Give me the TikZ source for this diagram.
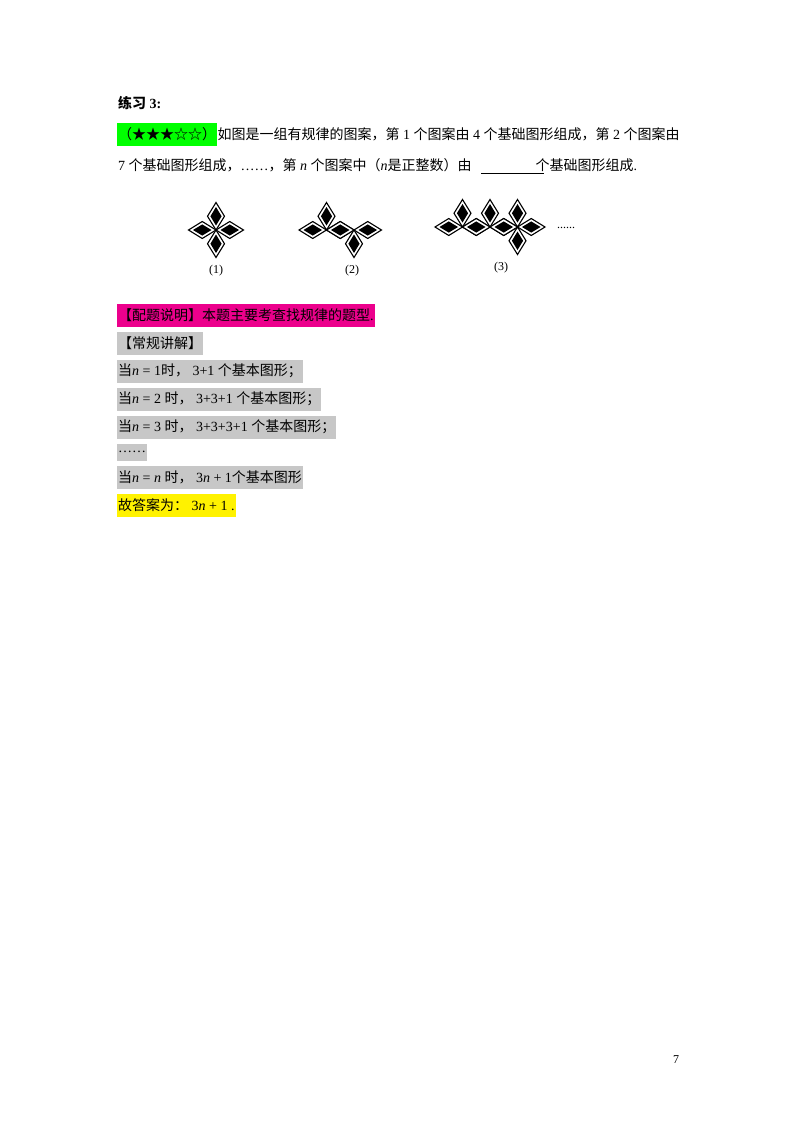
\documentclass[tikz,border=0pt]{standalone}
\usepackage{fontspec}
\setmainfont{Liberation Serif}
\newfontfamily\zhf{Noto Sans CJK SC}
\newcommand{\zh}[1]{{\zhf #1}}
\newcommand{\nn}{\textit{n}}
\begin{document}
\begin{tikzpicture}[x=1pt,y=-1pt,
  txt/.style={anchor=west,inner xsep=1pt,inner ysep=0pt,minimum height=23pt,font=\fontsize{14}{17}\selectfont},
  hl/.style={txt,fill=#1},
  petal/.pic={\draw[line width=1.1pt,fill=white] (0,0)--(8.5,13.75)--(0,27.5)--(-8.5,13.75)--cycle;
              \fill (0,4.5)--(5.6,13.75)--(0,23)--(-5.6,13.75)--cycle;}]
\useasboundingbox (0,0) rectangle (800,1132);
\node[txt] (t0) at (117,103) {\zh{\bfseries 练习} \textbf{3:}};
\node[hl={green}] (t1) at (117,134) {\zh{（★★★☆☆）}};
\node[txt,anchor=west,inner xsep=0pt] (t1b) at (t1.east) {\zh{如图是一组有规律的图案，第} 1 \zh{个图案由} 4 \zh{个基础图形组成，第} 2 \zh{个图案由}};
\node[txt] (t2) at (117,165) {7 \zh{个基础图形组成，}……\zh{，第} \nn{} \zh{个图案中（}\nn{}\zh{是正整数）由}\hspace{64pt}\zh{个基础图形组成}.};
\coordinate (u1) at (481,173); \coordinate (u2) at (544,173);
\draw[line width=0.6pt] (u1)--(u2);
% figures
\foreach \cx in {216}{\foreach \r in {0,90,180,270}{\pic[rotate=\r] at (\cx,230) {petal};}}
\foreach \cx in {326.5,354}{\foreach \r in {90,270}{\pic[rotate=\r] at (\cx,230) {petal};}}
\pic[rotate=180] at (326.5,230) {petal}; \pic[rotate=0] at (354,230) {petal};
\foreach \cx in {462.5,490,517.5}{\foreach \r in {90,270}{\pic[rotate=\r] at (\cx,227) {petal};}}
\pic[rotate=180] at (462.5,227) {petal}; \pic[rotate=180] at (490,227) {petal}; \pic[rotate=180] at (517.5,227) {petal}; \pic[rotate=0] at (517.5,227) {petal};
\node[font=\fontsize{12}{14}\selectfont] (l1) at (216,271) {(1)};
\node[font=\fontsize{12}{14}\selectfont] (l2) at (352,271) {(2)};
\node[font=\fontsize{12}{14}\selectfont] (l3) at (501,268) {(3)};
\node[font=\fontsize{12}{14}\selectfont] (dots) at (566,228) {......};
% solution
\node[hl={magenta}] (s0) at (117,315) {\zh{【配题说明】本题主要考查找规律的题型}.};
\node[hl={black!22}] (s1) at (117,343) {\zh{【常规讲解】}};
\node[hl={black!22}] (s2) at (117,371) {\zh{当}\nn{} = 1\zh{时，} 3+1 \zh{个基本图形；}};
\node[hl={black!22}] (s3) at (117,399) {\zh{当}\nn{} = 2 \zh{时，} 3+3+1 \zh{个基本图形；}};
\node[hl={black!22}] (s4) at (117,427) {\zh{当}\nn{} = 3 \zh{时，} 3+3+3+1 \zh{个基本图形；}};
\node[txt,fill=black!22,minimum height=17pt] (s5) at (117,452) {……};
\node[hl={black!22}] (s6) at (117,477) {\zh{当}\nn{} = \nn{} \zh{时，} 3\nn{} + 1\zh{个基本图形}};
\node[hl={yellow}] (s7) at (117,505) {\zh{故答案为：} 3\nn{} + 1 .};
\node[font=\fontsize{12}{14}\selectfont] (pg) at (676,1060) {7};
\end{tikzpicture}
\end{document}
